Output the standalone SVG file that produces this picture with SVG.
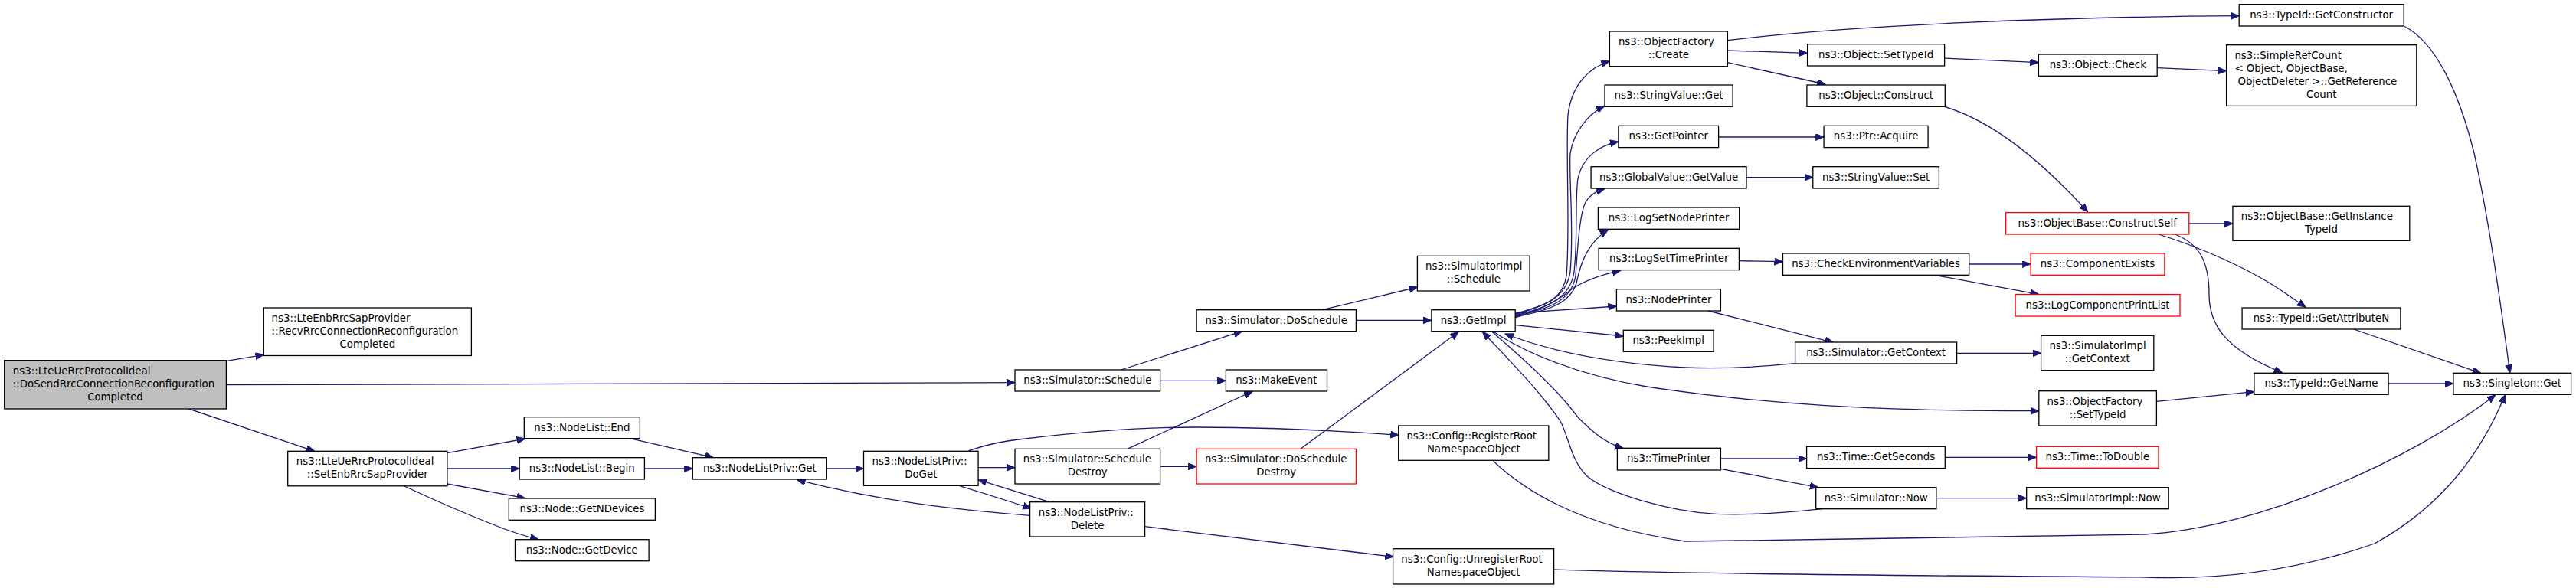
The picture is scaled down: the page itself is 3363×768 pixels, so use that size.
<svg xmlns="http://www.w3.org/2000/svg" width="3363" height="768" viewBox="0 0 3363 768">
<style>
.n rect{fill:#fff;stroke:#000;stroke-width:1.3}
.r rect{fill:#fff;stroke:#ff0000;stroke-width:1.3}
.m rect{fill:#bfbfbf;stroke:#000;stroke-width:1.3}
text{font-family:"DejaVu Sans",sans-serif;font-size:13.33px;fill:#000}
.c{text-anchor:middle}
#edges path{fill:none;stroke:#191970;stroke-width:1.3;marker-end:url(#ah)}
</style>
<defs>
<marker id="ah" markerUnits="userSpaceOnUse" markerWidth="12" markerHeight="10" refX="11" refY="4.5" orient="auto">
<path d="M0,0 L11,4.5 L0,9 z" fill="#191970" stroke="#191970" stroke-width="1"/>
</marker>
</defs>
<rect width="3363" height="768" fill="#fff"/>
<g id="edges">
<path d="M296.4,471.3 L344.6,463.3"/>
<path d="M295.4,502.7 L1325,499.7"/>
<path d="M246.4,534 L410.7,589.3"/>
<path d="M583.9,591.7 L685.7,573"/>
<path d="M583.9,612 L678.2,612"/>
<path d="M583.9,632 L685.7,650.7"/>
<path d="M527.9,635 C560,650 600,668 646,686 C665,694 685,700 703,704.7"/>
<path d="M822.5,572.7 L931.4,597.7"/>
<path d="M841.4,612 L904.3,612"/>
<path d="M1079.3,612 L1127.5,612"/>
<path d="M1264.6,588.7 C1290,580 1310,576 1330,574 C1420,563 1500,558 1560,558 C1650,558 1740,562 1826.4,568.3"/>
<path d="M1277.1,610.7 L1325,610.7"/>
<path d="M1252.1,634.3 L1346.4,664"/>
<path d="M1370,655.7 L1277.1,626.7"/>
<path d="M1344.6,673.3 C1250,666 1150,655 1040.4,626.7"/>
<path d="M1494.6,687.7 L1819.3,727.3"/>
<path d="M1463.6,483 L1621.8,432.7"/>
<path d="M1514.6,497.3 L1600.4,497.3"/>
<path d="M1471.8,586.3 L1635.4,511"/>
<path d="M1514.6,609.3 L1562.1,609.3"/>
<path d="M1770.4,418.3 L1868.9,418.3"/>
<path d="M1726.4,404.7 L1850.7,375"/>
<path d="M1697.9,586.3 L1904.3,433.3"/>
<path d="M1978,410 C2010,400 2040,395 2045,360 C2050,300 2044,200 2047,150 C2052,110 2075,88 2101.4,80"/>
<path d="M1978,411 C2015,400 2045,390 2050,355 C2055,300 2048,230 2050,200 C2055,170 2075,148 2095,138.3"/>
<path d="M1978,412 C2020,402 2050,390 2055,355 C2060,310 2056,260 2060,233 C2066,205 2088,190 2112.9,185"/>
<path d="M1978,413 C2025,403 2052,392 2057,360 C2060,320 2062,280 2070,264 C2076,254 2084,250 2095,246.7"/>
<path d="M1978,414 C2025,405 2050,395 2058,370 C2064,340 2075,315 2099.6,300"/>
<path d="M1978,415 C2010,405 2030,395 2045,383 C2060,370 2085,360 2115.7,353.3"/>
<path d="M1978.2,409 L2110.4,400"/>
<path d="M1978.2,424.7 L2119.3,439"/>
<path d="M1947.9,433.3 C1990,470 2030,505 2060,545 C2080,565 2095,578 2119.3,585.7"/>
<path d="M1951,434 C1990,460 2060,490 2150,505 C2300,528 2450,537 2661.8,536.7"/>
<path d="M1949.6,602.3 C2000,650 2080,690 2200,707 C2400,705 2650,699 2800,698 C2950,690 3150,600 3257.8,515.7"/>
<path d="M2028.6,744 C2300,752 2600,752 2800,754 C2900,758 3000,745 3100,710 C3190,660 3240,590 3270.4,515.7"/>
<path d="M2255.4,52.7 C2420,32 2700,22 2923.2,20.7"/>
<path d="M2255.4,66 L2359.6,69.3"/>
<path d="M2255.4,81.7 L2382.9,110"/>
<path d="M2538.6,76 L2661.4,81.7"/>
<path d="M2816.2,88.7 L2906.6,92.7"/>
<path d="M2538.6,139.3 C2600,158 2660,205 2725.7,276.7"/>
<path d="M2243.6,179 L2381.1,179"/>
<path d="M2280,231.7 L2366.8,231.7"/>
<path d="M2270.4,340.7 L2327.5,341.7"/>
<path d="M2570.7,345 L2651.1,345"/>
<path d="M2525.7,359.3 L2661.4,384.3"/>
<path d="M2857.8,292 L2914.9,292"/>
<path d="M2818,306 C2870,322 2940,352 2985,384 L3010.1,401.3"/>
<path d="M2839.5,306 C2870,318 2884,340 2884,384 C2884,420 2900,455 2979.5,486.7"/>
<path d="M3138.2,34 C3180,55 3210,120 3230,200 C3250,290 3265,400 3276.8,487.3"/>
<path d="M3072.9,430 L3238.8,487.3"/>
<path d="M3118.1,501 L3202.9,501"/>
<path d="M2230,406 L2393.6,447.3"/>
<path d="M2554.6,461.3 L2664.6,461.3"/>
<path d="M2343.6,474.7 C2290,480 2250,482 2200,480 C2120,476 2040,465 1965,436"/>
<path d="M2246.4,599 L2358.6,599"/>
<path d="M2246.4,612.3 L2373.9,636.7"/>
<path d="M2379,664.7 C2330,670 2280,673 2240,671.3 C2180,668 2100,645 2072,622 C2050,600 2048,570 2037,550 C2010,510 1965,465 1935.4,433.3"/>
<path d="M2527.9,650.7 L2645.7,650.7"/>
<path d="M2539.3,597.3 L2658.6,597.3"/>
<path d="M2815.4,524.3 L2942.9,511.7"/>
</g>
<g id="n_main" class="m"><rect x="5.7" y="470.7" width="289.7" height="63.3"/><text x="16.8" y="488.7">ns3::LteUeRrcProtocolIdeal</text><text x="16.8" y="505.7">::DoSendRrcConnectionReconfiguration</text><text class="c" x="150.5" y="522.7">Completed</text></g>
<g id="n_recv" class="n"><rect x="344.3" y="402" width="271.1" height="62.5"/><text x="354.6" y="420">ns3::LteEnbRrcSapProvider</text><text x="354.6" y="437">::RecvRrcConnectionReconfiguration</text><text class="c" x="479.8" y="454">Completed</text></g>
<g id="n_setenb" class="n"><rect x="375.7" y="589.3" width="208.2" height="45.5"/><text x="386.8" y="607.3">ns3::LteUeRrcProtocolIdeal</text><text class="c" x="479.8" y="624.3">::SetEnbRrcSapProvider</text></g>
<g id="n_end" class="n"><rect x="684.3" y="544.7" width="151.1" height="28"/><text class="c" x="759.9" y="562.7">ns3::NodeList::End</text></g>
<g id="n_begin" class="n"><rect x="678.2" y="597.7" width="163.2" height="28.3"/><text class="c" x="759.8" y="615.7">ns3::NodeList::Begin</text></g>
<g id="n_getndev" class="n"><rect x="664.3" y="651" width="191.1" height="28.3"/><text class="c" x="759.9" y="669">ns3::Node::GetNDevices</text></g>
<g id="n_getdev" class="n"><rect x="672.5" y="704.7" width="174.6" height="28"/><text class="c" x="759.8" y="722.7">ns3::Node::GetDevice</text></g>
<g id="n_nlpget" class="n"><rect x="904.3" y="597.7" width="175" height="28.3"/><text class="c" x="991.8" y="615.7">ns3::NodeListPriv::Get</text></g>
<g id="n_doget" class="n"><rect x="1127.5" y="589.3" width="149.6" height="45"/><text x="1138.6" y="607.3">ns3::NodeListPriv::</text><text class="c" x="1202.3" y="624.3">DoGet</text></g>
<g id="n_simsched" class="n"><rect x="1325" y="483" width="189.6" height="28"/><text class="c" x="1419.8" y="501">ns3::Simulator::Schedule</text></g>
<g id="n_schdestroy" class="n"><rect x="1325" y="586.3" width="189.6" height="45.7"/><text x="1335.7" y="604.3">ns3::Simulator::Schedule</text><text class="c" x="1419.8" y="621.3">Destroy</text></g>
<g id="n_delete" class="n"><rect x="1344.6" y="655.7" width="150" height="45.3"/><text x="1355.7" y="673.7">ns3::NodeListPriv::</text><text class="c" x="1419.6" y="690.7">Delete</text></g>
<g id="n_dosched" class="n"><rect x="1562.1" y="404.7" width="208.3" height="28"/><text class="c" x="1666.2" y="422.7">ns3::Simulator::DoSchedule</text></g>
<g id="n_makeevent" class="n"><rect x="1600.4" y="483" width="132.1" height="28"/><text class="c" x="1666.4" y="501">ns3::MakeEvent</text></g>
<g id="n_doschdestroy" class="r"><rect x="1562.1" y="586.3" width="208.3" height="45.7"/><text x="1572.9" y="604.3">ns3::Simulator::DoSchedule</text><text class="c" x="1666.2" y="621.3">Destroy</text></g>
<g id="n_simimplsched" class="n"><rect x="1850.4" y="334.3" width="146.7" height="45.7"/><text x="1861.1" y="352.3">ns3::SimulatorImpl</text><text class="c" x="1923.8" y="369.3">::Schedule</text></g>
<g id="n_getimpl" class="n"><rect x="1868.9" y="404.7" width="109.3" height="28"/><text class="c" x="1923.5" y="422.7">ns3::GetImpl</text></g>
<g id="n_regroot" class="n"><rect x="1825.7" y="556" width="196.1" height="45.3"/><text x="1836.4" y="574">ns3::Config::RegisterRoot</text><text class="c" x="1923.8" y="591">NamespaceObject</text></g>
<g id="n_unregroot" class="n"><rect x="1818.6" y="716.7" width="210" height="46.3"/><text x="1829.3" y="735">ns3::Config::UnregisterRoot</text><text class="c" x="1923.6" y="752">NamespaceObject</text></g>
<g id="n_create" class="n"><rect x="2101.4" y="41" width="154" height="45.7"/><text x="2112.9" y="59">ns3::ObjectFactory</text><text class="c" x="2178.4" y="76">::Create</text></g>
<g id="n_svget" class="n"><rect x="2095" y="111" width="167.1" height="28.3"/><text class="c" x="2178.6" y="129">ns3::StringValue::Get</text></g>
<g id="n_getptr" class="n"><rect x="2112.9" y="164.3" width="130.7" height="28.3"/><text class="c" x="2178.3" y="182.3">ns3::GetPointer</text></g>
<g id="n_gvget" class="n"><rect x="2077.1" y="217.7" width="202.9" height="28.3"/><text class="c" x="2178.6" y="235.7">ns3::GlobalValue::GetValue</text></g>
<g id="n_lsnp" class="n"><rect x="2086.4" y="271" width="184.3" height="28.3"/><text class="c" x="2178.6" y="289">ns3::LogSetNodePrinter</text></g>
<g id="n_lstp" class="n"><rect x="2087.1" y="324.3" width="183.3" height="28.3"/><text class="c" x="2178.8" y="342.3">ns3::LogSetTimePrinter</text></g>
<g id="n_nodeprinter" class="n"><rect x="2110.4" y="377.7" width="136" height="28.3"/><text class="c" x="2178.4" y="395.7">ns3::NodePrinter</text></g>
<g id="n_peekimpl" class="n"><rect x="2119.3" y="431.3" width="117.8" height="28"/><text class="c" x="2178.2" y="449.3">ns3::PeekImpl</text></g>
<g id="n_timeprinter" class="n"><rect x="2111.4" y="585.3" width="135" height="28.7"/><text class="c" x="2178.9" y="603.3">ns3::TimePrinter</text></g>
<g id="n_getctor" class="n"><rect x="2923.2" y="5.7" width="215" height="28.3"/><text class="c" x="3030.7" y="23.7">ns3::TypeId::GetConstructor</text></g>
<g id="n_settypeid" class="n"><rect x="2359.6" y="57.7" width="179" height="28.3"/><text class="c" x="2449.1" y="75.7">ns3::Object::SetTypeId</text></g>
<g id="n_construct" class="n"><rect x="2358.9" y="111" width="180.4" height="28.3"/><text class="c" x="2449.1" y="129">ns3::Object::Construct</text></g>
<g id="n_check" class="n"><rect x="2661.4" y="71" width="154.8" height="28.3"/><text class="c" x="2738.8" y="89">ns3::Object::Check</text></g>
<g id="n_simpleref" class="n"><rect x="2906.6" y="58.7" width="248.2" height="79.7"/><text x="2917.4" y="76.7">ns3::SimpleRefCount</text><text x="2917.4" y="93.7">&lt; Object, ObjectBase,</text><text x="2921.4" y="110.7">ObjectDeleter &gt;::GetReference</text><text class="c" x="3030.7" y="127.7">Count</text></g>
<g id="n_ptracq" class="n"><rect x="2381.1" y="164.3" width="136" height="28.3"/><text class="c" x="2449.1" y="182.3">ns3::Ptr::Acquire</text></g>
<g id="n_svset" class="n"><rect x="2366.8" y="217.7" width="164.6" height="28.3"/><text class="c" x="2449.1" y="235.7">ns3::StringValue::Set</text></g>
<g id="n_constructself" class="r"><rect x="2618.6" y="277.7" width="239.2" height="28.3"/><text class="c" x="2738.2" y="295.7">ns3::ObjectBase::ConstructSelf</text></g>
<g id="n_checkenv" class="n"><rect x="2327.5" y="331" width="243.2" height="28.3"/><text class="c" x="2449.1" y="349">ns3::CheckEnvironmentVariables</text></g>
<g id="n_compexists" class="r"><rect x="2651.1" y="331" width="174.8" height="28.3"/><text class="c" x="2738.5" y="349">ns3::ComponentExists</text></g>
<g id="n_logcpl" class="r"><rect x="2631.1" y="384.5" width="214.9" height="28.5"/><text class="c" x="2738.6" y="402.5">ns3::LogComponentPrintList</text></g>
<g id="n_getinst" class="n"><rect x="2914.9" y="269.3" width="230.9" height="45"/><text x="2925.7" y="287.3">ns3::ObjectBase::GetInstance</text><text class="c" x="3030.4" y="304.3">TypeId</text></g>
<g id="n_getattrn" class="n"><rect x="2927.1" y="402" width="206.8" height="28"/><text class="c" x="3030.5" y="420">ns3::TypeId::GetAttributeN</text></g>
<g id="n_getname" class="n"><rect x="2942.9" y="487.3" width="175.2" height="28"/><text class="c" x="3030.5" y="505.3">ns3::TypeId::GetName</text></g>
<g id="n_singleton" class="n"><rect x="3202.9" y="487.3" width="153.7" height="28"/><text class="c" x="3279.8" y="505.3">ns3::Singleton::Get</text></g>
<g id="n_simgetctx" class="n"><rect x="2343.6" y="447" width="211" height="28"/><text class="c" x="2449.1" y="465">ns3::Simulator::GetContext</text></g>
<g id="n_simimplgetctx" class="n"><rect x="2664.6" y="438.3" width="147.2" height="45.4"/><text x="2675.4" y="456.3">ns3::SimulatorImpl</text><text class="c" x="2738.2" y="473.3">::GetContext</text></g>
<g id="n_ofsettypeid" class="n"><rect x="2661.8" y="510.7" width="153.6" height="45.3"/><text x="2672.5" y="528.7">ns3::ObjectFactory</text><text class="c" x="2738.6" y="545.7">::SetTypeId</text></g>
<g id="n_getseconds" class="n"><rect x="2358.6" y="583.3" width="180.7" height="28.3"/><text class="c" x="2449" y="601.3">ns3::Time::GetSeconds</text></g>
<g id="n_todouble" class="r"><rect x="2658.6" y="583.3" width="159.4" height="28"/><text class="c" x="2738.3" y="601.3">ns3::Time::ToDouble</text></g>
<g id="n_simnow" class="n"><rect x="2370.7" y="636.7" width="157.2" height="28"/><text class="c" x="2449.3" y="654.7">ns3::Simulator::Now</text></g>
<g id="n_simimplnow" class="n"><rect x="2645.7" y="636.7" width="185.5" height="28"/><text class="c" x="2738.5" y="654.7">ns3::SimulatorImpl::Now</text></g>
</svg>
